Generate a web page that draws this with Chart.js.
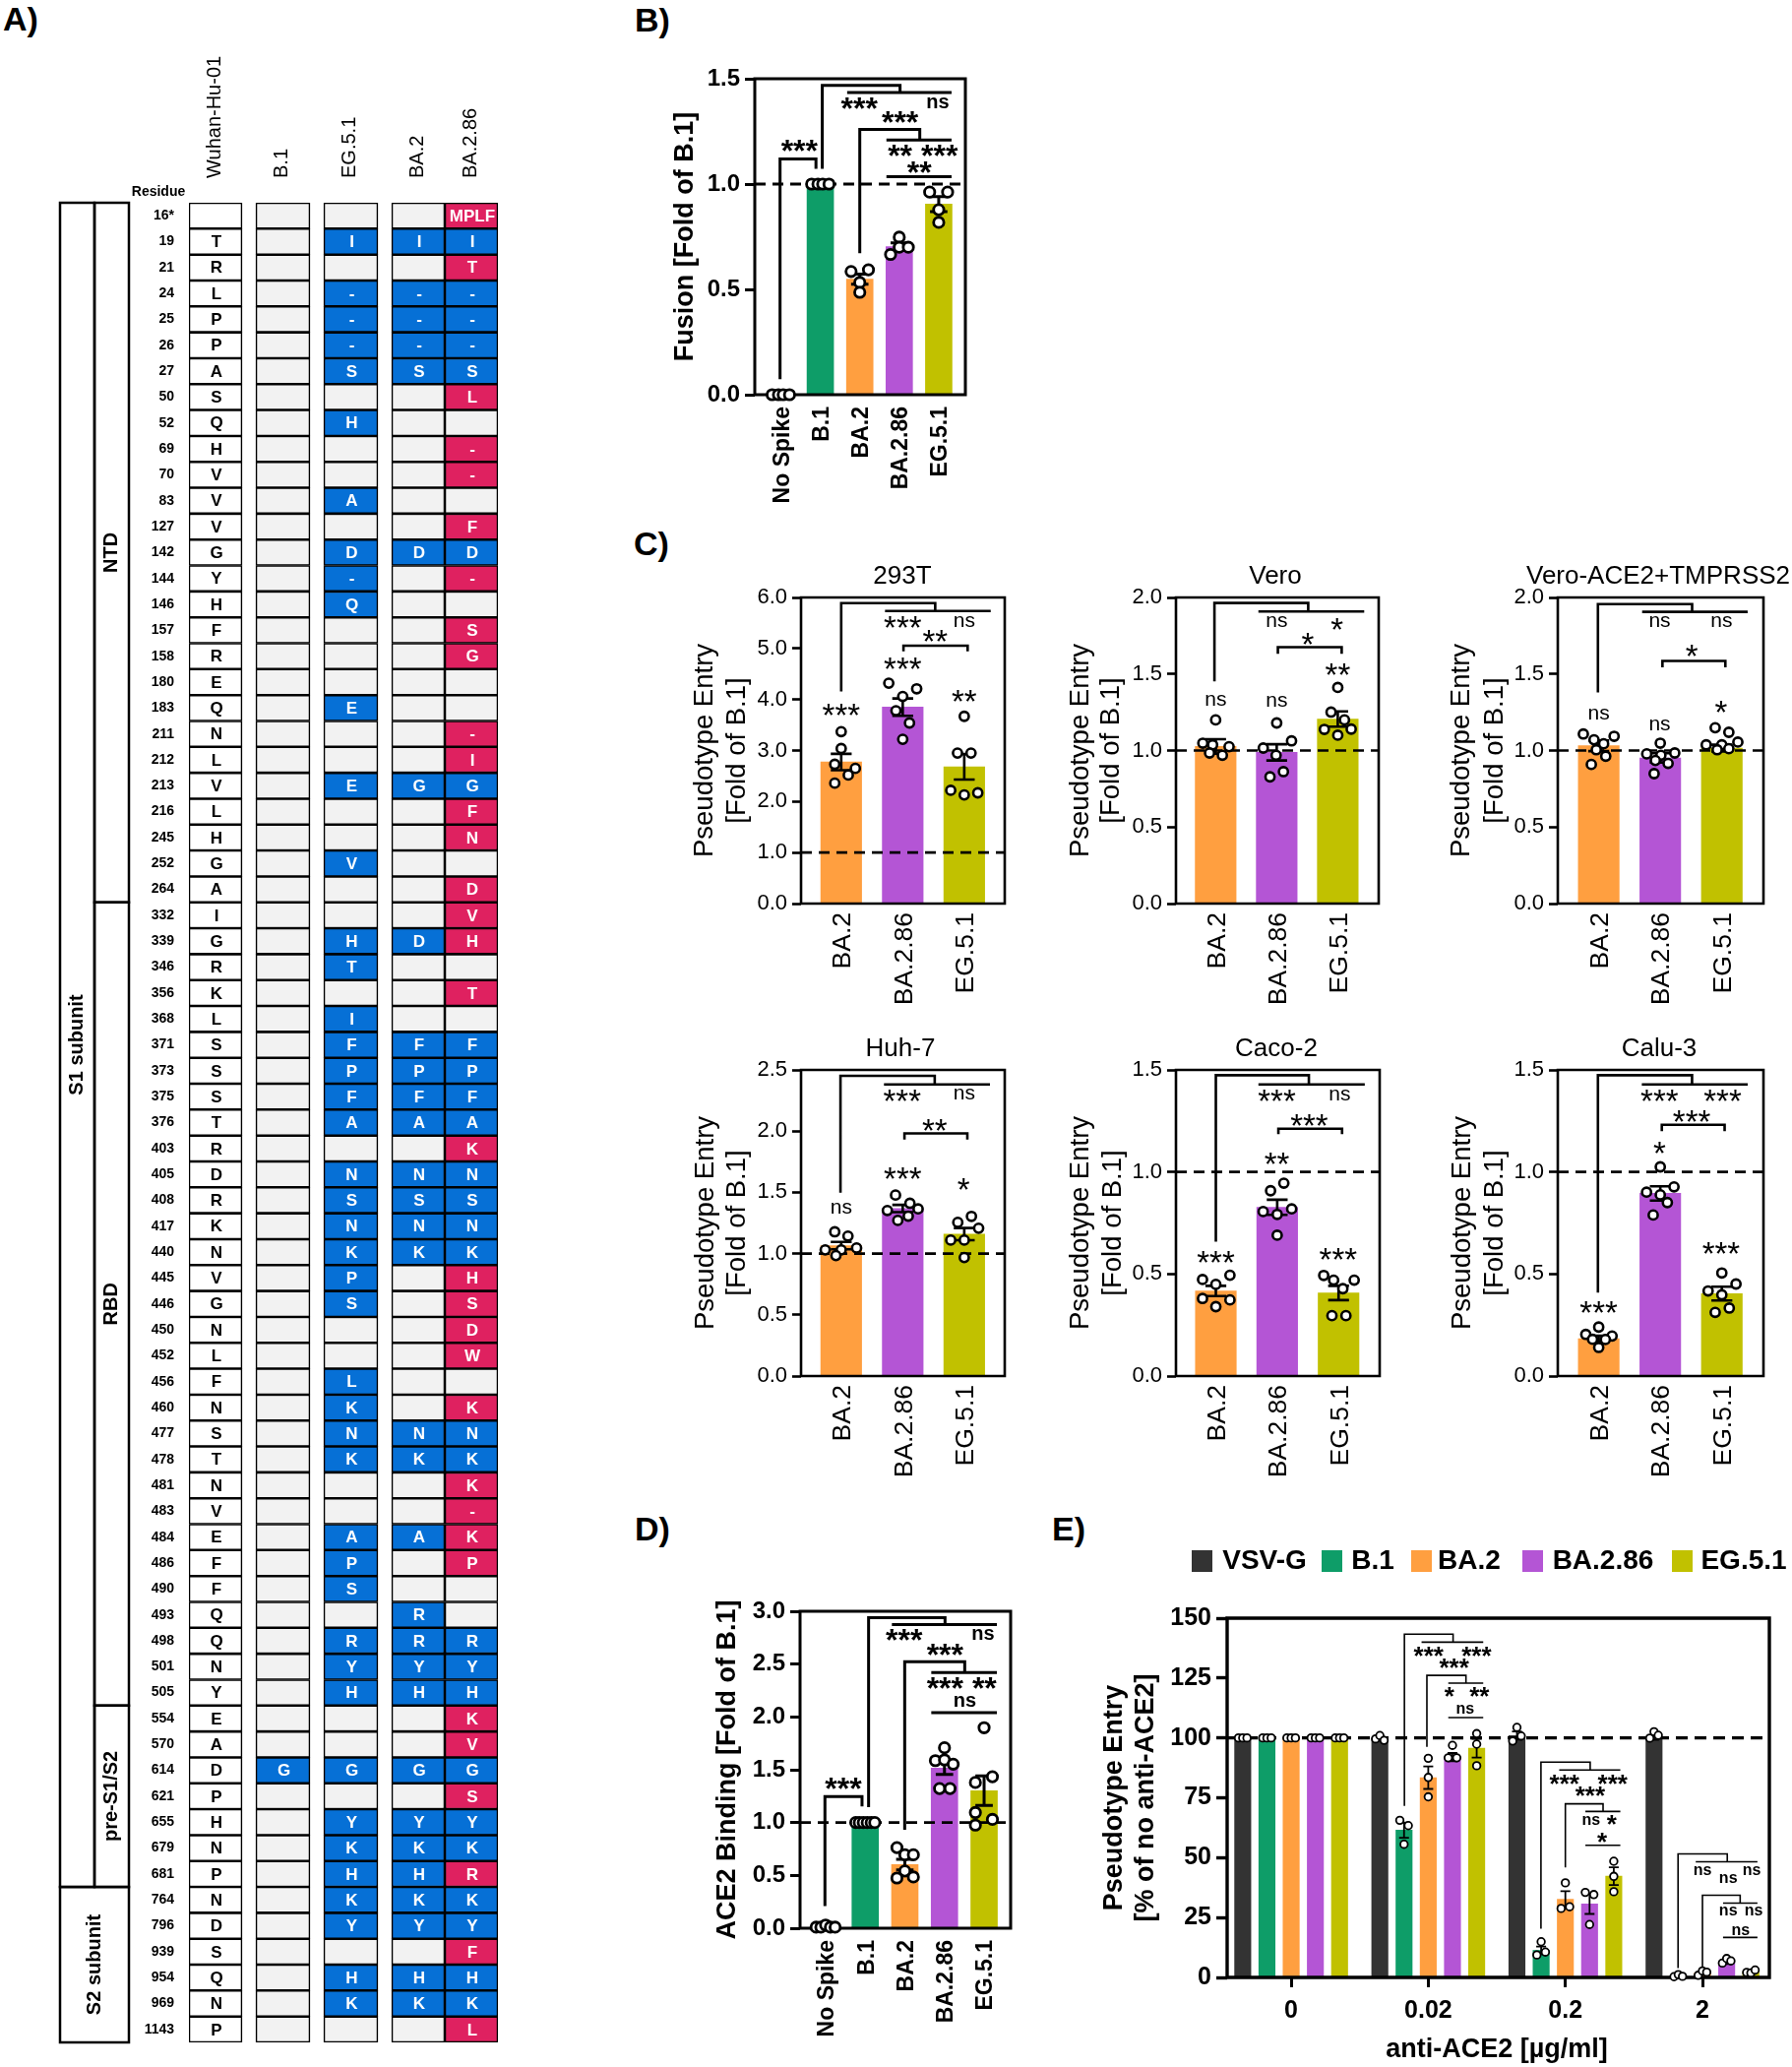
<!DOCTYPE html>
<html>
<head>
<meta charset="utf-8">
<title>Spike variants</title>
<script src="https://cdn.jsdelivr.net/npm/chart.js@4"></script>
<style>
html, body { margin: 0; background: #fff; }
#page { position: relative; width: 1821px; height: 2100px; overflow: hidden; background: #fff; }
#page canvas { position: absolute; }
.letter { position: absolute; font: bold 34px/34px "Liberation Sans", Arial, sans-serif; color: #000; }
</style>
</head>
<body>
<div id="page">
  <div class="letter" style="left:3px;top:2px">A)</div>
  <div class="letter" style="left:645px;top:3px">B)</div>
  <div class="letter" style="left:644px;top:535px">C)</div>
  <div class="letter" style="left:645px;top:1536px">D)</div>
  <div class="letter" style="left:1069px;top:1536px">E)</div>
</div>
<script>
// panel A
const residues = ['16*','19','21','24','25','26','27','50','52','69',
  '70','83','127','142','144','146','157','158','180','183',
  '211','212','213','216','245','252','264','332','339','346',
  '356','368','371','373','375','376','403','405','408','417',
  '440','445','446','450','452','456','460','477','478','481',
  '483','484','486','490','493','498','501','505','554','570',
  '614','621','655','679','681','764','796','939','954','969','1143'];
const wuhan = ['','T','R','L','P','P','A','S','Q','H',
  'V','V','V','G','Y','H','F','R','E','Q',
  'N','L','V','L','H','G','A','I','G','R',
  'K','L','S','S','S','T','R','D','R','K',
  'N','V','G','N','L','F','N','S','T','N',
  'V','E','F','F','Q','Q','N','Y','E','A',
  'D','P','H','N','P','N','D','S','Q','N','P'];
const b1Muts = residues.map(r => r === '614' ? 'G' : '');
const eg51Muts = ['','I','','-','-','-','S','','H','',
  '','A','','D','-','Q','','','','E',
  '','','E','','','V','','','H','T',
  '','I','F','P','F','A','','N','S','N',
  'K','P','S','','','L','K','N','K','',
  '','A','P','S','','R','Y','H','','',
  'G','','Y','K','H','K','Y','','H','K',''];
const ba2Muts = ['','I','','-','-','-','S','','','',
  '','','','D','','','','','','',
  '','','G','','','','','','D','',
  '','','F','P','F','A','','N','S','N',
  'K','','','','','','','N','K','',
  '','A','','','R','R','Y','H','','',
  'G','','Y','K','H','K','Y','','H','K',''];
const ba286Muts = ['MPLF','I','T','-','-','-','S','L','','-',
  '-','','F','D','-','','S','G','','',
  '-','I','G','F','N','','D','V','H','',
  'T','','F','P','F','A','K','N','S','N',
  'K','H','S','D','W','','K','N','K','K',
  '-','K','P','','','R','Y','H','K','V',
  'G','S','Y','K','R','K','Y','F','H','K','L'];
const columnNames = ['Wuhan-Hu-01','B.1','EG.5.1','BA.2','BA.2.86'];
const domains = [['S1 subunit',0,64,0],['NTD',0,26,1],['RBD',27,57,1],['pre-S1/S2',58,64,1],['S2 subunit',65,70,2]];

// panels B and D
const allVariants = ['No Spike','B.1','BA.2','BA.2.86','EG.5.1'];
const fusionMeans = [0,1,.549,.703,.905];
const fusionSems = [0,0,.024,.018,.036];
const fusionPts = [[0,0,0,0],[1,1,1,1],[.585,.593,.533,.486],[.666,.748,.70,.70],[.962,.962,.878,.818]];
const fusionJit = [[-.22,-.06,.06,.22],[-.22,-.06,.06,.22],[-.22,.22,0,0],[-.22,0,0,.23],[-.23,.225,0,0]];
const bindingMeans = [.02,1,.603,1.515,1.302];
const bindingSems = [0,0,.05,.06,.14];
const bindingPts = [[.01,.01,.03,.01,.01],[1,1,1,1,1,1],[.763,.695,.695,.542,.475,.485],[1.708,1.586,1.593,1.553,1.322,1.322],[1.898,1.434,1.38,1.095,1.03,.976]];
const bindingJit = [[-.24,-.12,0,.12,.24],[-.24,-.15,-.05,.05,.15,.24],[-.2,0,.215,0,-.2,.215],[0,-.23,0,.22,-.124,.14],[0,.21,-.22,-.22,.21,-.22]];

// panel C
const entryVariants = ['BA.2','BA.2.86','EG.5.1'];
const hekMeans = [2.775,3.85,2.68];
const hekSems = [.16,.17,.25];
const hekPts = [[3.37,3.04,2.73,2.65,2.52,2.36],[4.32,4.21,4.06,3.78,3.54,3.22],[3.67,2.95,2.95,2.22,2.17,2.13]];
const hekJit = [[0,0,-.105,.23,.115,-.105],[-.227,.227,0,-.11,.11,0],[0,-.11,.11,-.22,.22,0]];
const veroMeans = [1.027,.988,1.206];
const veroSems = [.047,.053,.05];
const veroPts = [[1.2,1.048,1.037,1.025,.984,.969],[1.18,1.063,1.016,.969,.862,.828],[1.412,1.251,1.2,1.138,1.14,1.1]];
const veroJit = [[0,-.21,-.05,.22,-.1,.11],[0,.243,-.22,-.01,.11,-.11],[0,-.11,.11,-.22,.22,0]];
const tmprssMeans = [1.031,.952,1.016];
const tmprssSems = [.035,.03,.022];
const tmprssPts = [[1.108,1.07,1.044,1.093,1.005,.963,.909],[1.048,.978,.984,.969,.935,.916,.849],[1.149,1.119,1.037,1.055,1.037,1.012,1.005]];
const tmprssJit = [[-.25,-.076,.08,.25,-.04,.114,-.12],[0,-.22,.235,.01,-.08,.127,-.1],[-.108,.114,-.254,.26,0,.114,-.076]];
const huhMeans = [1.065,1.368,1.159];
const huhSems = [.03,.03,.05];
const huhPts = [[1.178,1.143,1.03,1.046,1.03,.984],[1.478,1.411,1.352,1.365,1.306,1.271],[1.304,1.255,1.207,1.11,1.11,.968]];
const huhJit = [[-.105,.11,-.26,.25,0,-.086],[-.117,.117,-.25,.25,.09,-.08],[.117,-.105,.234,-.22,0,0]];
const cacoMeans = [.417,.827,.407];
const cacoSems = [.025,.037,.035];
const cacoPts = [[.494,.473,.449,.38,.373,.34],[.945,.908,.819,.806,.792,.69],[.493,.47,.47,.428,.296,.296]];
const cacoJit = [[.23,-.217,0,-.217,.23,0],[.108,-.108,.236,-.229,0,0],[-.242,.255,-.08,.07,-.108,.12]];
const caluMeans = [.183,.895,.404];
const caluSems = [.015,.035,.034];
const caluPts = [[.24,.204,.196,.18,.179,.14],[1.025,.927,.901,.888,.85,.789],[.505,.451,.417,.398,.333,.312]];
const caluJit = [[0,-.21,.217,-.1,.108,0],[0,.223,-.223,0,.115,-.115],[0,.23,-.223,0,.121,-.108]];

// panel E, one entry per anti-ACE2 dose
const doses = ['0','0.02','0.2','2'];
const seriesNames = ['VSV-G','B.1','BA.2','BA.2.86','EG.5.1'];
const vsvMeans = [100,100,101,100];
const b1Means = [100,61.5,11.3,.6];
const ba2Means = [100,83.4,32.6,1.8];
const ba286Means = [100,92,30.7,6.1];
const eg51Means = [100,95.7,42.3,2.2];
const vsvSems = [0,.6,1.7,.8];
const b1Sems = [0,3.2,1.6,.3];
const ba2Sems = [0,4.7,3.4,.5];
const ba286Sems = [0,1.7,4.2,.5];
const eg51Sems = [0,3.9,3.7,.4];
const vsvPts = [[100,100,100],[99.6,101,99],[98.7,104.4,100.8],[99.9,102.6,101.1]];
const b1Pts = [[100,100,100],[65.6,55.6,63.4],[9.4,14.9,10.6],[.3,1.2,.45]];
const ba2Pts = [[100,100,100],[91.5,83.5,75.4],[28.8,39.5,29.5],[.9,2.7,2.2]];
const ba286Pts = [[100,100,100],[91.7,96.9,91.7],[35.5,22.1,34.6],[6,7.9,6.9]];
const eg51Pts = [[100,100,100],[101.8,97.4,88.4],[48.5,42.2,35.8],[2.1,1.9,3.1]];
const fan = [-.031,0,.031], col = [0,0,0];
const ba2Jit = [fan,col,fan,fan];
const eg51Jit = [fan,col,col,fan];

const GREEN = '#0E9D68', ORANGE = '#FF9F40', PURPLE = '#B455D5', OLIVE = '#C1C100', DARK = '#333333';
const BLUE = '#0670D6', PINK = '#DF2160', EMPTY = '#F2F2F2';
const FONT = '"Liberation Sans", Arial, sans-serif';

Chart.defaults.font.family = FONT;
Chart.defaults.color = '#000';

const page = document.getElementById('page');

function lineSet(polys, width, order, dash) {
  let data = [];
  polys.forEach(p => {
    p.forEach(q => data.push({x: q[0], y: q[1]}));
    data.push({x: null, y: null});
  });
  return {type: 'line', data: data, borderColor: '#000', borderWidth: width, borderDash: dash || [],
    borderCapStyle: 'butt', borderJoinStyle: 'miter', pointRadius: 0, tension: 0, fill: false,
    clip: false, spanGaps: false, order: order};
}

function putText(ctx, s, x, y, font, rot) {
  ctx.save();
  ctx.font = font;
  ctx.fillStyle = '#000';
  ctx.textAlign = 'center';
  ctx.textBaseline = 'middle';
  ctx.translate(x, y);
  if (rot) ctx.rotate(-Math.PI / 2);
  ctx.fillText(s, 0, 0);
  ctx.restore();
}

function bar1d(means, sems, pts, jit, colors) {
  return means.map((m, i) => ({x: i, y: m, color: colors[i], sem: sems[i], pts: pts[i], jit: jit[i]}));
}

function drawPanel(o) {
  const s = o.style;
  const [l, t, r, b] = o.box;
  const mL = 140, mT = 90, mR = 29, mB = 135;
  const left = l - mL, top = t - mT;
  const canvas = document.createElement('canvas');
  canvas.width = r - l + mL + mR;
  canvas.height = b - t + mT + mB;
  canvas.style.left = left + 'px';
  canvas.style.top = top + 'px';
  page.appendChild(canvas);

  const [x0, x1] = o.xRange;
  const yMax = o.yTicks[o.yTicks.length - 1];
  let whiskers = [], dots = [];
  o.bars.forEach(k => {
    if (k.sem > 0) {
      whiskers.push([[k.x, k.y - k.sem], [k.x, k.y + k.sem]]);
      whiskers.push([[k.x - s.cap, k.y + k.sem], [k.x + s.cap, k.y + k.sem]]);
      whiskers.push([[k.x - s.cap, k.y - k.sem], [k.x + s.cap, k.y - k.sem]]);
    }
    k.pts.forEach((v, i) => dots.push({x: k.x + k.jit[i], y: v}));
  });

  new Chart(canvas, {
    type: 'bar',
    data: {
      datasets: [
        {type: 'bar', data: o.bars.map(k => ({x: k.x, y: k.y})), backgroundColor: o.bars.map(k => k.color),
          grouped: false, barPercentage: 1, categoryPercentage: 1, maxBarThickness: s.barW, order: 6},
        lineSet([[[x0, 0], [x0, yMax], [x1, yMax], [x1, 0], [x0, 0]]], s.frame, 5),
        lineSet([[[x0, o.dashAt], [x1, o.dashAt]]], s.dash, 4, [s.dashOn, s.dashOff]),
        lineSet(whiskers, s.whisker, 3),
        lineSet(o.lines, s.bracket, 2),
        {type: 'scatter', data: dots, pointStyle: 'circle', pointRadius: s.r, pointBorderWidth: s.rw,
          pointBackgroundColor: '#fff', pointBorderColor: '#000', clip: false, order: 1}
      ]
    },
    options: {
      responsive: false,
      animation: false,
      events: [],
      layout: {padding: {left: 0, top: mT, right: mR, bottom: 0}},
      plugins: {legend: {display: false}, tooltip: {enabled: false}, title: {display: false}},
      scales: {
        x: {
          type: 'linear', min: x0, max: x1, offset: false,
          grid: {display: !!s.xTick, offset: false, drawOnChartArea: false, drawTicks: !!s.xTick,
            tickLength: s.xTick || 0, tickWidth: 3, tickColor: '#000'},
          border: {display: false},
          afterBuildTicks: sc => { sc.ticks = o.labels.map((_, i) => ({value: i})); },
          afterFit: sc => { sc.height = mB; },
          ticks: {autoSkip: false, maxRotation: o.flat ? 0 : 90, minRotation: o.flat ? 0 : 90,
            padding: s.xPad, labelOffset: o.flat ? 0 : s.xShift, font: {size: s.xFont, weight: s.weight},
            callback: v => o.labels[v]}
        },
        y: {
          type: 'linear', min: 0, max: yMax,
          grid: {drawOnChartArea: false, drawTicks: true, tickLength: s.yTick, tickWidth: s.frame, tickColor: '#000'},
          border: {display: false},
          afterBuildTicks: sc => { sc.ticks = o.yTicks.map(v => ({value: v})); },
          afterFit: sc => { sc.width = mL; },
          ticks: {padding: 5, font: {size: s.yFont, weight: s.weight},
            callback: v => o.digits ? v.toFixed(o.digits) : String(v)}
        }
      }
    },
    plugins: [{
      id: 'notes',
      afterDraw(chart) {
        const ctx = chart.ctx, xs = chart.scales.x, ys = chart.scales.y;
        o.marks.forEach(m => {
          const px = xs.getPixelForValue(m[0]), py = ys.getPixelForValue(m[1]);
          const star = m[2].charAt(0) === '*';
          const size = star ? s.star : s.ns;
          ctx.save();
          ctx.font = s.markWeight + ' ' + size + 'px ' + FONT;
          ctx.fillStyle = '#000';
          ctx.textAlign = 'center';
          ctx.textBaseline = 'alphabetic';
          ctx.fillText(m[2], px, py + (star ? .47 : .26) * size);
          ctx.restore();
        });
        ctx.save();
        ctx.translate(-left, -top);
        const tf = s.weight + ' ' + s.titleFont + 'px ' + FONT;
        o.yTitle.forEach((line, i) => putText(ctx, line, o.yTitleX[i], (t + b) / 2, tf, true));
        if (o.title) putText(ctx, o.title, o.titleXY[0], o.titleXY[1], 'normal 26px ' + FONT);
        if (o.extra) o.extra(ctx);
        ctx.restore();
      }
    }]
  });
}

// residue table, drawn as floating bars on a pixel-sized x scale
const tableCols = [[wuhan, [192, 246]], [b1Muts, [260, 315]], [eg51Muts, [329, 384]], [ba2Muts, [398, 452]], [ba286Muts, [452, 506]]];
const cellColor = (texts, i, j) => {
  if (j === 0) return '#fff';
  if (!texts[i]) return EMPTY;
  if (j === 4 && texts[i] !== ba2Muts[i]) return PINK;
  return BLUE;
};
(function () {
  const canvas = document.createElement('canvas');
  canvas.width = 520;
  canvas.height = 2100;
  canvas.style.left = '0px';
  canvas.style.top = '0px';
  page.appendChild(canvas);
  new Chart(canvas, {
    type: 'bar',
    data: {
      labels: residues,
      datasets: tableCols.map((c, j) => ({
        label: columnNames[j],
        cellText: c[0],
        data: residues.map(() => c[1]),
        backgroundColor: residues.map((_, i) => cellColor(c[0], i, j)),
        borderColor: '#000',
        borderWidth: 1.6,
        borderSkipped: false,
        grouped: false,
        barPercentage: 1,
        categoryPercentage: 1
      }))
    },
    options: {
      indexAxis: 'y',
      responsive: false,
      animation: false,
      events: [],
      layout: {padding: {left: 0, top: 0, right: 14, bottom: 25}},
      plugins: {legend: {display: false}, tooltip: {enabled: false}},
      scales: {
        x: {
          type: 'linear', position: 'top', min: 192, max: 506, offset: false,
          grid: {display: false, offset: false, drawTicks: false},
          border: {display: false},
          afterBuildTicks: sc => { sc.ticks = tableCols.map(c => ({value: (c[1][0] + c[1][1]) / 2})); },
          afterFit: sc => { sc.height = 206; },
          ticks: {autoSkip: false, maxRotation: 90, minRotation: 90, padding: 25, labelOffset: 23, font: {size: 20},
            callback: v => columnNames[tableCols.findIndex(c => (c[1][0] + c[1][1]) / 2 === v)]}
        },
        y: {
          type: 'category', offset: true,
          grid: {display: false, offset: true, drawTicks: false},
          border: {display: false},
          afterFit: sc => { sc.width = 192; },
          ticks: {autoSkip: false, align: 'center', padding: 15, font: {size: 14, weight: 'bold'}}
        }
      }
    },
    plugins: [{
      id: 'cells',
      afterDatasetsDraw(chart) {
        const ctx = chart.ctx;
        chart.data.datasets.forEach((d, j) => {
          const font = 'bold ' + 17 + 'px ' + FONT;
          chart.getDatasetMeta(j).data.forEach((el, i) => {
            if (!d.cellText[i]) return;
            const c = el.getCenterPoint();
            ctx.save();
            ctx.font = font;
            ctx.textAlign = 'center';
            ctx.textBaseline = 'middle';
            ctx.fillStyle = j === 0 ? '#000' : '#fff';
            ctx.fillText(d.cellText[i], c.x + 1, c.y + 1);
            ctx.restore();
          });
        });
      },
      afterDraw(chart) {
        const ctx = chart.ctx, xs = chart.scales.x, ys = chart.scales.y;
        const half = (ys.getPixelForValue(1) - ys.getPixelForValue(0)) / 2;
        const spans = [[61, 96], [96, 131], [61, 131]];
        ctx.save();
        ctx.strokeStyle = '#000';
        ctx.lineWidth = 2.5;
        domains.forEach(d => {
          const a = ys.getPixelForValue(d[1]) - half, z = ys.getPixelForValue(d[2]) + half;
          const sp = spans[d[3]];
          ctx.strokeRect(xs.getPixelForValue(sp[0]), a, sp[1] - sp[0], z - a);
          putText(ctx, d[0], xs.getPixelForValue((sp[0] + sp[1]) / 2), (a + z) / 2, 'bold 20px ' + FONT, true);
        });
        ctx.restore();
        putText(ctx, 'Residue', 161, 195, 'bold 14px ' + FONT);
      }
    }]
  });
})();

const bold = {weight: 'bold', markWeight: 'bold', yFont: 24, xFont: 23, titleFont: 27, star: 32, ns: 20,
  barW: 27, r: 5.2, rw: 2.8, frame: 3, dash: 2.8, dashOn: 11, dashOff: 7, whisker: 3, bracket: 3,
  cap: .22, yTick: 10, xPad: 12, xShift: 2};
const plain = {weight: 'normal', markWeight: 'normal', yFont: 22, xFont: 26.5, titleFont: 27.5, star: 33, ns: 21,
  barW: 41.5, r: 4.6, rw: 2.6, frame: 2.6, dash: 2.6, dashOn: 11, dashOff: 7, whisker: 2.6, bracket: 2.6,
  cap: .17, yTick: 9, xPad: 9, xShift: 2};
const wide = {weight: 'bold', markWeight: 'bold', yFont: 25, xFont: 25, titleFont: 27, star: 26, ns: 16,
  barW: 16.5, r: 3.8, rw: 1.8, frame: 3.4, dash: 3.2, dashOn: 12, dashOff: 7, whisker: 1.8, bracket: 1.6,
  cap: .036, yTick: 11, xTick: 10, xPad: 9};

const variantColors = [DARK, GREEN, ORANGE, PURPLE, OLIVE].slice(0);
const entryColors = [ORANGE, PURPLE, OLIVE];
const fusionColors = ['#fff', GREEN, ORANGE, PURPLE, OLIVE];

drawPanel({
  box: [767, 80, 981, 401], xRange: [-.66, 4.675], style: bold, digits: 1, dashAt: 1,
  yTicks: [0, .5, 1, 1.5], labels: allVariants,
  bars: bar1d(fusionMeans, fusionSems, fusionPts, fusionJit, fusionColors),
  yTitle: ['Fusion [Fold of B.1]'], yTitleX: [697],
  lines: [
    [[-.02, .074], [-.02, 1.119], [.89, 1.119], [.89, 1.073]],
    [[1.05, 1.073], [1.05, 1.468], [3.02, 1.468], [3.02, 1.434]],
    [[1.68, 1.434], [4.325, 1.434]],
    [[2, .672], [2, 1.259], [3.52, 1.259], [3.52, 1.209]],
    [[2.675, 1.209], [4.325, 1.209]],
    [[2.675, 1.035], [4.325, 1.035]]
  ],
  marks: [[.47, 1.179, '***'], [1.99, 1.381, '***'], [3.975, 1.384, 'ns'], [3.02, 1.313, '***'],
    [3.02, 1.155, '**'], [4.02, 1.155, '***'], [3.51, 1.076, '**']]
});

const entryTitle = ['Pseudotype Entry', '[Fold of B.1]'];

drawPanel({
  box: [814, 607, 1021, 918], xRange: [-.653, 2.658], style: plain, digits: 1, dashAt: 1,
  yTicks: [0, 1, 2, 3, 4, 5, 6], labels: entryVariants, title: '293T', titleXY: [917, 586],
  bars: bar1d(hekMeans, hekSems, hekPts, hekJit, entryColors),
  yTitle: entryTitle, yTitleX: [716, 749],
  lines: [
    [[0, 4.156], [0, 5.89], [1.528, 5.89], [1.528, 5.736]],
    [[.712, 5.736], [2.43, 5.736]],
    [[1.012, 4.946], [1.012, 5.056], [2.055, 5.056], [2.055, 4.946]]
  ],
  marks: [[1, 5.48, '***'], [2, 5.524, 'ns'], [1.528, 5.22, '**'], [0, 3.77, '***'], [1, 4.677, '***'], [2, 4.04, '**']]
});

drawPanel({
  box: [1195, 607, 1401, 918], xRange: [-.65, 2.67], style: plain, digits: 1, dashAt: 1,
  yTicks: [0, .5, 1, 1.5, 2], labels: entryVariants, title: 'Vero', titleXY: [1296, 586],
  bars: bar1d(veroMeans, veroSems, veroPts, veroJit, entryColors),
  yTitle: entryTitle, yTitleX: [1098, 1129],
  lines: [
    [[-.02, 1.452], [-.02, 1.964], [1.516, 1.964], [1.516, 1.908]],
    [[.70, 1.908], [2.433, 1.908]],
    [[1.019, 1.632], [1.019, 1.675], [2.064, 1.675], [2.064, 1.632]]
  ],
  marks: [[1, 1.84, 'ns'], [1.987, 1.818, '*'], [1.51, 1.722, '*'], [2, 1.523, '**'], [0, 1.33, 'ns'], [1, 1.32, 'ns']]
});

drawPanel({
  box: [1583, 607, 1792, 918], xRange: [-.665, 2.676], style: plain, digits: 1, dashAt: 1,
  yTicks: [0, .5, 1, 1.5, 2], labels: entryVariants, title: 'Vero-ACE2+TMPRSS2', titleXY: [1685, 586],
  bars: bar1d(tmprssMeans, tmprssSems, tmprssPts, tmprssJit, entryColors),
  yTitle: entryTitle, yTitleX: [1485, 1519],
  lines: [
    [[-.013, 1.38], [-.013, 1.957], [1.517, 1.957], [1.517, 1.906]],
    [[.705, 1.906], [2.419, 1.906]],
    [[1.035, 1.544], [1.035, 1.585], [2.057, 1.585], [2.057, 1.544]]
  ],
  marks: [[.99, 1.84, 'ns'], [1.994, 1.84, 'ns'], [1.511, 1.64, '*'], [1.987, 1.279, '*'], [0, 1.238, 'ns'], [.99, 1.166, 'ns']]
});

drawPanel({
  box: [814, 1087, 1021, 1398], xRange: [-.653, 2.658], style: plain, digits: 1, dashAt: 1,
  yTicks: [0, .5, 1, 1.5, 2, 2.5], labels: entryVariants, title: 'Huh-7', titleXY: [915, 1066],
  bars: bar1d(huhMeans, huhSems, huhPts, huhJit, entryColors),
  yTitle: entryTitle, yTitleX: [717, 749],
  lines: [
    [[-.012, 1.497], [-.012, 2.452], [1.52, 2.452], [1.52, 2.382]],
    [[.695, 2.382], [2.418, 2.382]],
    [[1.028, 1.931], [1.028, 1.982], [2.05, 1.982], [2.05, 1.931]]
  ],
  marks: [[.99, 2.277, '***'], [2, 2.299, 'ns'], [1.52, 2.041, '**'], [0, 1.371, 'ns'], [1, 1.642, '***'], [1.988, 1.553, '*']]
});

drawPanel({
  box: [1195, 1087, 1402, 1398], xRange: [-.65, 2.67], style: plain, digits: 1, dashAt: 1,
  yTicks: [0, .5, 1, 1.5], labels: entryVariants, title: 'Caco-2', titleXY: [1297, 1066],
  bars: bar1d(cacoMeans, cacoSems, cacoPts, cacoJit, entryColors),
  yTitle: entryTitle, yTitleX: [1098, 1131],
  lines: [
    [[0, .658], [0, 1.474], [1.516, 1.474], [1.516, 1.429]],
    [[.694, 1.429], [2.427, 1.429]],
    [[1.019, 1.185], [1.019, 1.212], [2.057, 1.212], [2.057, 1.185]]
  ],
  marks: [[.994, 1.367, '***'], [2.019, 1.379, 'ns'], [1.522, 1.246, '***'], [.994, 1.057, '**'], [0, .578, '***'], [1.994, .589, '***']]
});

drawPanel({
  box: [1583, 1087, 1792, 1398], xRange: [-.665, 2.676], style: plain, digits: 1, dashAt: 1,
  yTicks: [0, .5, 1, 1.5], labels: entryVariants, title: 'Calu-3', titleXY: [1686, 1066],
  bars: bar1d(caluMeans, caluSems, caluPts, caluJit, entryColors),
  yTitle: entryTitle, yTitleX: [1486, 1519],
  lines: [
    [[-.013, .409], [-.013, 1.474], [1.516, 1.474], [1.516, 1.429]],
    [[.70, 1.429], [2.42, 1.429]],
    [[1.025, 1.2], [1.025, 1.231], [2.045, 1.231], [2.045, 1.2]]
  ],
  marks: [[.987, 1.367, '***'], [2.013, 1.367, '***'], [1.51, 1.267, '***'], [.987, 1.112, '*'], [0, .332, '***'], [1.987, .618, '***']]
});

drawPanel({
  box: [813, 1637, 1027, 1959], xRange: [-.645, 4.67], style: bold, digits: 1, dashAt: 1,
  yTicks: [0, .5, 1, 1.5, 2, 2.5, 3], labels: allVariants,
  bars: bar1d(bindingMeans, bindingSems, bindingPts, bindingJit, fusionColors),
  yTitle: ['ACE2 Binding [Fold of B.1]'], yTitleX: [740],
  lines: [
    [[-.017, .21], [-.017, 1.247], [.919, 1.247], [.919, 1.153]],
    [[1.085, 1.146], [1.085, 2.939], [3.014, 2.939], [3.014, 2.875]],
    [[1.673, 2.875], [4.323, 2.875]],
    [[1.996, .932], [1.996, 2.522], [3.511, 2.522], [3.511, 2.42]],
    [[2.667, 2.42], [4.323, 2.42]],
    [[2.667, 2.041], [4.323, 2.041]]
  ],
  marks: [[.447, 1.356, '***'], [1.98, 2.769, '***'], [3.975, 2.78, 'ns'], [3.014, 2.627, '***'],
    [3.014, 2.315, '***'], [4.008, 2.315, '**'], [3.511, 2.146, 'ns']]
});

// panel E: five bars per dose
const groupStep = .1766;
const eSeries = [
  [vsvMeans, vsvSems, vsvPts, [fan, fan, fan, fan]],
  [b1Means, b1Sems, b1Pts, [fan, fan, fan, fan]],
  [ba2Means, ba2Sems, ba2Pts, ba2Jit],
  [ba286Means, ba286Sems, ba286Pts, [fan, fan, fan, fan]],
  [eg51Means, eg51Sems, eg51Pts, eg51Jit]
];
let eBars = [];
eSeries.forEach((sr, j) => {
  doses.forEach((d, i) => {
    eBars.push({x: i + (j - 2) * groupStep, y: sr[0][i], color: variantColors[j], sem: sr[1][i], pts: sr[2][i], jit: sr[3][i]});
  });
});
const legendSquares = [1211, 1343, 1434, 1547, 1699];
const legendTexts = [1285, 1395, 1493, 1629, 1772];

drawPanel({
  box: [1247, 1644, 1798, 2009], xRange: [-.467, 3.488], style: wide, dashAt: 100, flat: true,
  yTicks: [0, 25, 50, 75, 100, 125, 150], labels: doses, bars: eBars,
  yTitle: ['Pseudotype Entry', '[% of no anti-ACE2]'], yTitleX: [1133, 1165],
  lines: [
    [[.826, 71.6], [.826, 143.3], [1.181, 143.3], [1.181, 140]],
    [[.951, 140], [1.401, 140]],
    [[.99, 96.3], [.99, 126.1], [1.275, 126.1], [1.275, 122.9]],
    [[1.146, 122.9], [1.401, 122.9]],
    [[1.146, 108.5], [1.401, 108.5]],
    [[1.822, 20.3], [1.822, 89.9], [2.181, 89.9], [2.181, 86.6]],
    [[1.955, 86.6], [2.401, 86.6]],
    [[2, 45.9], [2, 72.5], [2.275, 72.5], [2.275, 69.3]],
    [[2.146, 69.3], [2.401, 69.3]],
    [[2.146, 55.2], [2.401, 55.2]],
    [[2.822, 3.9], [2.822, 51.6], [3.181, 51.6], [3.181, 48.3]],
    [[2.951, 48.3], [3.401, 48.3]],
    [[3, 3.4], [3, 34.3], [3.275, 34.3], [3.275, 31]],
    [[3.15, 31], [3.401, 31]],
    [[3.15, 16.7], [3.401, 16.7]]
  ],
  marks: [[1.003, 135.7, '***'], [1.352, 135.7, '***'], [1.188, 130.9, '***'], [1.153, 119, '*'], [1.373, 119, '**'], [1.268, 112, 'ns'],
    [1.993, 82.2, '***'], [2.345, 82.2, '***'], [2.181, 77.5, '***'], [2.188, 65.3, 'ns'], [2.338, 65.3, '*'], [2.268, 57.9, '*'],
    [3, 44.4, 'ns'], [3.188, 41.2, 'ns'], [3.359, 44.4, 'ns'], [3.188, 27.7, 'ns'], [3.373, 27.7, 'ns'], [3.279, 19.5, 'ns']],
  extra: ctx => {
    putText(ctx, 'anti-ACE2 [µg/ml]', 1521, 2083, 'bold 27px ' + FONT);
    seriesNames.forEach((name, j) => {
      ctx.fillStyle = variantColors[j];
      ctx.fillRect(legendSquares[j], 1575, 21, 22);
      putText(ctx, name, legendTexts[j], 1586, 'bold 28px ' + FONT);
    });
  }
});
</script>
</body>
</html>
